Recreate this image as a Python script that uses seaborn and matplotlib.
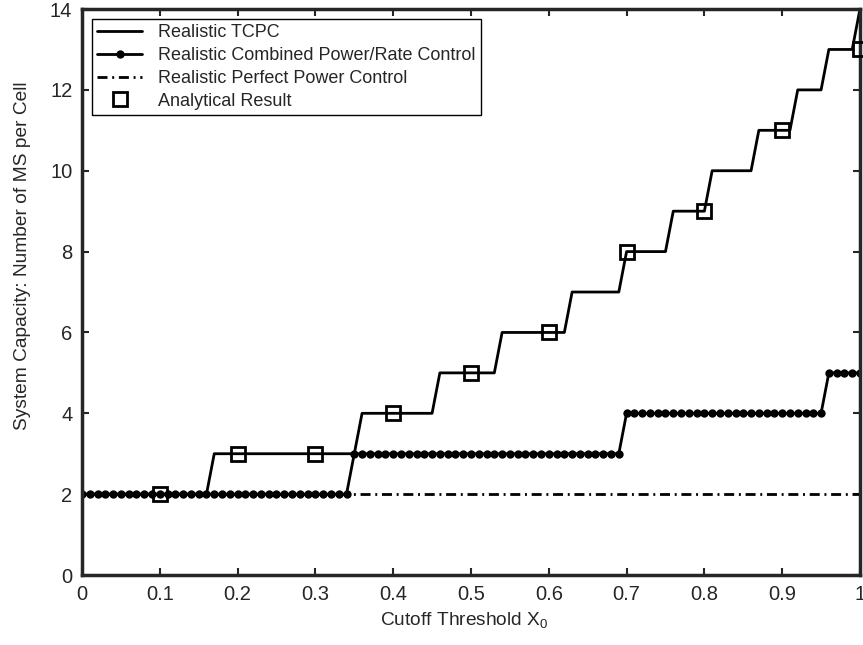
import numpy as np
import pandas as pd
import matplotlib
matplotlib.use('Agg')
import matplotlib.pyplot as plt
import seaborn as sns

# cutoff threshold samples
x = np.round(np.arange(0, 1.0001, 0.01), 2)

# staircase: value starts at given x
tcpc_step_x = [0.0, 0.17, 0.36, 0.46, 0.54, 0.63, 0.70, 0.76, 0.81, 0.87, 0.92, 0.96, 1.00]
tcpc_step_y = [2, 3, 4, 5, 6, 7, 8, 9, 10, 11, 12, 13, 14]

comb_step_x = [0.0, 0.35, 0.70, 0.96]
comb_step_y = [2, 3, 4, 5]

perfect_level = 2

analytic_x = [0.1, 0.2, 0.3, 0.4, 0.5, 0.6, 0.7, 0.8, 0.9, 1.0]
analytic_y = [2, 3, 3, 4, 5, 6, 8, 9, 11, 13]

xtick_labels = ['0', '0.1', '0.2', '0.3', '0.4', '0.5', '0.6', '0.7', '0.8', '0.9', '1']


def staircase(xs, sx, sy):
    idx = np.searchsorted(np.array(sx), xs + 1e-9, side='right') - 1
    return np.array(sy)[idx]


df = pd.DataFrame({
    'x': x,
    'tcpc': staircase(x, tcpc_step_x, tcpc_step_y),
    'comb': staircase(x, comb_step_x, comb_step_y),
    'perfect': np.full(len(x), perfect_level),
})

sns.set_style('ticks')
plt.rcParams['font.family'] = ['Liberation Sans', 'DejaVu Sans']
plt.rcParams['mathtext.fontset'] = 'custom'
plt.rcParams['mathtext.rm'] = 'Liberation Sans'
plt.rcParams['mathtext.it'] = 'Liberation Sans'

fig = plt.figure(figsize=(8.63, 6.45), dpi=100)
ax = fig.add_axes([0.095, 0.1085, 0.9015, 0.8775])

sns.lineplot(data=df, x='x', y='tcpc', ax=ax, color='black', lw=2,
             label='Realistic TCPC')
sns.lineplot(data=df, x='x', y='comb', ax=ax, color='black', lw=2,
             marker='o', markersize=6, markeredgewidth=0,
             label='Realistic Combined Power/Rate Control')
sns.lineplot(data=df, x='x', y='perfect', ax=ax, color='black', lw=2,
             linestyle=(0, (3.6, 1.7, 0.7, 1.7)),
             label='Realistic Perfect Power Control')
ax.plot(analytic_x, analytic_y, linestyle='none', marker='s', markersize=10.5,
        markerfacecolor='none', markeredgecolor='black', markeredgewidth=2,
        label='Analytical Result', clip_on=False, zorder=5)

ax.set_xlim(0, 1)
ax.set_ylim(0, 14)
ax.set_xticks(np.round(np.arange(0, 1.01, 0.1), 1))
ax.set_xticklabels(xtick_labels)
ax.set_yticks(range(0, 15, 2))

ax.tick_params(direction='in', length=5, width=1.5, top=True, right=True,
               labelsize=14.5, pad=7)
for s in ax.spines.values():
    s.set_linewidth(2.5)
    s.set_visible(True)

ax.set_xlabel('Cutoff Threshold X$_0$', fontsize=13.8)
ax.xaxis.set_label_coords(0.491, -0.062)
ax.set_ylabel('System Capacity: Number of MS per Cell', fontsize=13.8)
ax.yaxis.set_label_coords(-0.066, 0.564)

leg = ax.legend(loc='upper left', fontsize=13, frameon=True, fancybox=False,
                edgecolor='black', framealpha=1, handlelength=2.5,
                borderaxespad=0.55, labelspacing=0.32, borderpad=0.3,
                handletextpad=0.85)
leg.get_frame().set_linewidth(1.0)

fig.savefig('out.png', dpi=100)
